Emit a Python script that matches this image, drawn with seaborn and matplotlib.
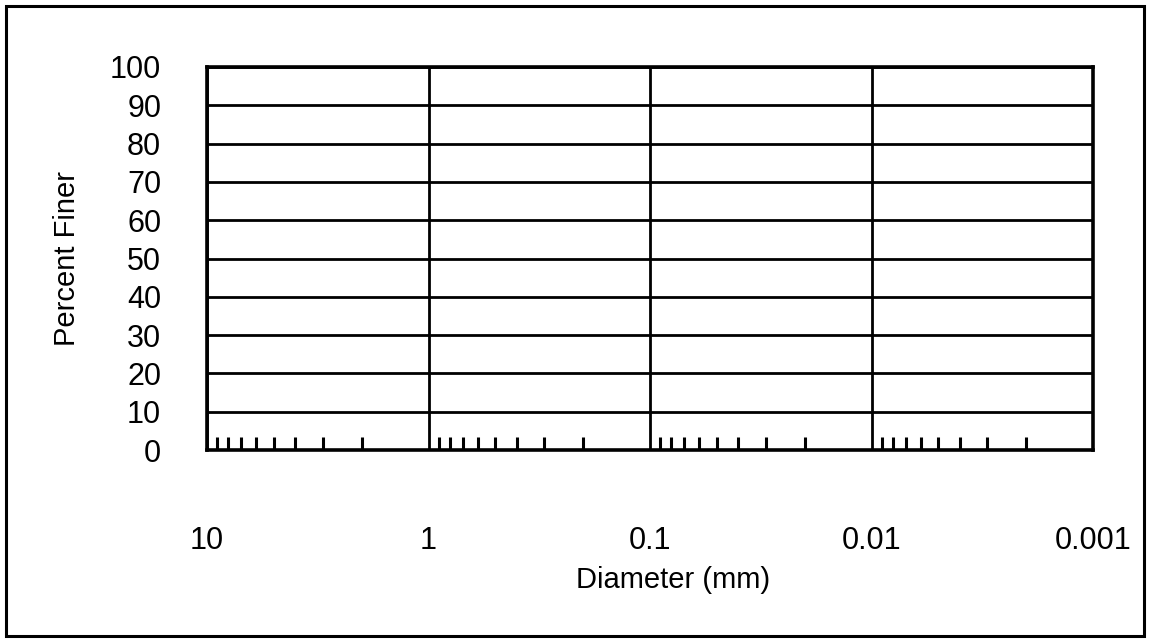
import matplotlib
matplotlib.use("Agg")
import matplotlib.pyplot as plt
import matplotlib.ticker as mticker
from matplotlib.patches import Rectangle
import seaborn as sns

# grain size chart: diameter decades (reversed log axis) and percent finer
diameter_ticks = [10, 1, 0.1, 0.01, 0.001]
diameter_labels = ["10", "1", "0.1", "0.01", "0.001"]
percent_ticks = [0, 10, 20, 30, 40, 50, 60, 70, 80, 90, 100]
percent_labels = [str(v) for v in percent_ticks]

sns.set_theme(style="white")
plt.rcParams["font.family"] = ["Liberation Sans", "DejaVu Sans"]

fig = plt.figure(figsize=(11.5, 6.42), dpi=100)
ax = fig.add_axes([207 / 1150, 1 - 450 / 642, 886 / 1150, 383 / 642])

ax.set_xscale("log")
ax.set_xlim(diameter_ticks[0], diameter_ticks[-1])
ax.set_ylim(percent_ticks[0], percent_ticks[-1])

ax.set_xticks(diameter_ticks)
ax.set_xticklabels(diameter_labels)
ax.xaxis.set_minor_locator(mticker.LogLocator(base=10, subs=range(2, 10)))
ax.xaxis.set_minor_formatter(mticker.NullFormatter())
ax.set_yticks(percent_ticks)
ax.set_yticklabels(percent_labels)

ax.grid(True, which="major", color="black", linewidth=2.0)
ax.set_axisbelow(False)
for s in ax.spines.values():
    s.set_color("black")
    s.set_linewidth(2.6)

ax.tick_params(axis="x", which="major", length=0, pad=55, labelsize=22, colors="black")
ax.tick_params(axis="x", which="minor", direction="in", length=9.5, width=2.2,
               color="black", bottom=True, top=False)
ax.tick_params(axis="y", which="major", length=0, pad=33, labelsize=22, colors="black")

ax.set_xlabel("Diameter (mm)", fontsize=21, color="black")
ax.set_ylabel("Percent Finer", fontsize=21, color="black")
ax.xaxis.set_label_coords(0.526, -0.302)
ax.yaxis.set_label_coords(-0.142, 0.5)

fig.patches.append(Rectangle((6 / 1150, 6 / 642), 1138 / 1150, 630 / 642,
                             transform=fig.transFigure, fill=False,
                             edgecolor="black", linewidth=2.2))

fig.savefig("out.png", dpi=100, facecolor="white")
